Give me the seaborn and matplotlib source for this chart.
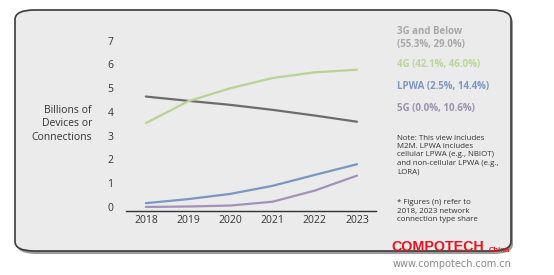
import matplotlib
matplotlib.use("Agg")
import matplotlib.pyplot as plt
import seaborn as sns
import pandas as pd
from matplotlib.patches import FancyBboxPatch

years = [2018, 2019, 2020, 2021, 2022, 2023]
g3 = [4.65, 4.47, 4.30, 4.09, 3.85, 3.59]
g4 = [3.53, 4.45, 5.00, 5.43, 5.67, 5.78]
lpwa = [0.16, 0.33, 0.55, 0.89, 1.35, 1.80]
g5 = [0.0, 0.02, 0.06, 0.22, 0.69, 1.32]
series_names = ["3G and Below", "4G", "LPWA", "5G"]
legend_labels = ["3G and Below\n(55.3%, 29.0%)", "4G (42.1%, 46.0%)",
                 "LPWA (2.5%, 14.4%)", "5G (0.0%, 10.6%)"]
yticks = [0, 1, 2, 3, 4, 5, 6, 7]

line_colors = ["#6c6c6c", "#b8d494", "#7a96c2", "#a391b8"]
text_colors = ["#a8a8a8", "#bcd59c", "#7d97c0", "#9a92ad"]

rows = []
for name, vals in zip(series_names, [g3, g4, lpwa, g5]):
    for y, v in zip(years, vals):
        rows.append({"Year": y, "Value": v, "Series": name})
df = pd.DataFrame(rows)

sns.set_style("white")
plt.rcParams["font.family"] = ["Open Sans", "DejaVu Sans"]

fig = plt.figure(figsize=(5.54, 2.75), dpi=100)
fig.patch.set_facecolor("white")

W, H = 554, 275
shadow = FancyBboxPatch((17 / W, (H - 254) / H), (496 / W), (241 / H),
                        boxstyle="round,pad=0,rounding_size=0.035",
                        transform=fig.transFigure, facecolor="#9a9a9a",
                        edgecolor="none", zorder=0)
fig.patches.append(shadow)
panel = FancyBboxPatch((15 / W, (H - 251) / H), (496 / W), (241 / H),
                       boxstyle="round,pad=0,rounding_size=0.035",
                       transform=fig.transFigure, facecolor="#ebebeb",
                       edgecolor="#3a3a3a", linewidth=1.2, zorder=0.5)
fig.patches.append(panel)

ax = fig.add_axes([126 / W, 64 / H, 250 / W, 175 / H])
ax.set_zorder(3)
ax.set_facecolor("none")
sns.lineplot(data=df, x="Year", y="Value", hue="Series", hue_order=series_names,
             palette=line_colors, linewidth=1.6, ax=ax, legend=False)

ax.set_xlim(2017.53, 2023.45)
ax.set_ylim(-0.17, 7.2)
ax.set_yticks(yticks)
ax.set_xticks(years)
ax.set_xticklabels([str(y) for y in years], fontsize=7.5, color="#333333")
ax.set_yticklabels([str(t) for t in yticks], fontsize=7.5, color="#333333")
ax.tick_params(axis="both", length=0)
ax.tick_params(axis="y", pad=9)
ax.tick_params(axis="x", pad=3)
ax.set_xlabel("")
ax.set_ylabel("")
for s in ["top", "right", "left"]:
    ax.spines[s].set_visible(False)
ax.spines["bottom"].set_color("#333333")
ax.spines["bottom"].set_linewidth(1.0)

fig.text(92 / W, 1 - 124 / H, "Billions of\nDevices or\nConnections",
         ha="right", va="center", fontsize=7.5, color="#333333", linespacing=1.3)

ys = [38, 65, 87, 108]
for lab, col, y in zip(legend_labels, text_colors, ys):
    fig.text(397 / W, 1 - y / H, lab, ha="left", va="center", fontsize=7.0,
             fontweight="bold", color=col, linespacing=1.35)

fig.text(397 / W, 1 - 155 / H,
         "Note: This view includes\nM2M. LPWA includes\ncellular LPWA (e.g., NBIOT)\nand non-cellular LPWA (e.g.,\nLORA)",
         ha="left", va="center", fontsize=5.7, color="#333333", linespacing=1.3)
fig.text(397 / W, 1 - 211 / H,
         "* Figures (n) refer to\n2018, 2023 network\nconnection type share",
         ha="left", va="center", fontsize=5.7, color="#333333", linespacing=1.3)

fig.text(391 / W, 1 - 247 / H, "COMPOTECH", ha="left", va="center",
         fontsize=10.3, fontweight="bold", color="#e8141c",
         family=["Liberation Sans", "DejaVu Sans"], zorder=5)
fig.text(489 / W, 1 - 250 / H, "China", ha="left", va="center",
         fontsize=5.5, fontweight="bold", color="#e8141c",
         family=["Liberation Sans", "DejaVu Sans"], zorder=5)
fig.text(393 / W, 1 - 264 / H, "www.compotech.com.cn", ha="left", va="center",
         fontsize=7, color="#888888", family=["DejaVu Sans"], zorder=5)

fig.savefig("out.png", dpi=100, facecolor="white")
